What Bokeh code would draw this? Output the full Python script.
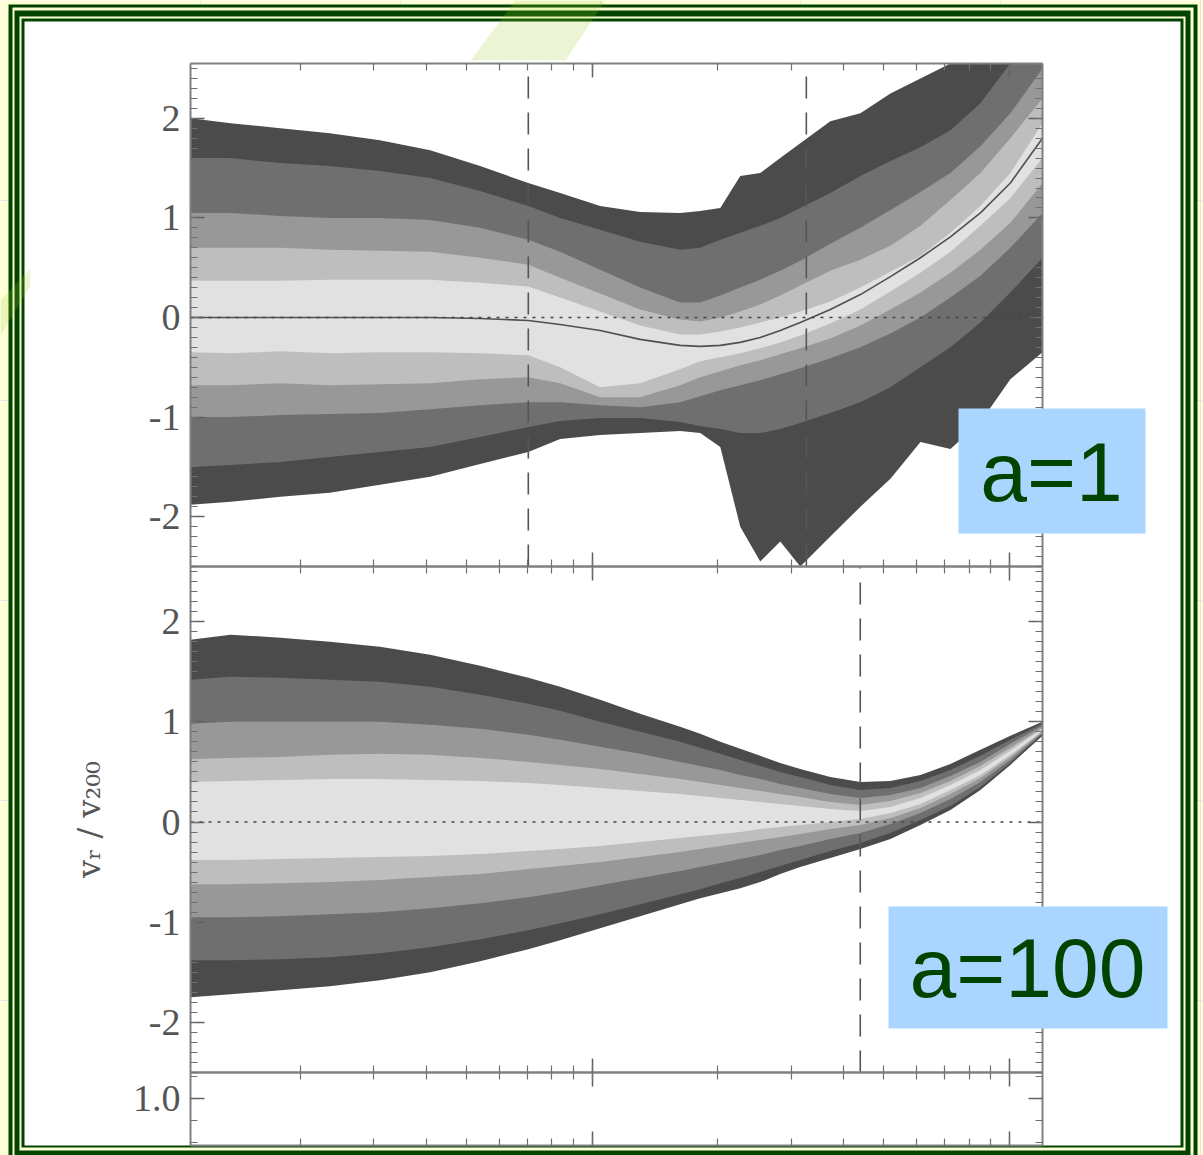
import numpy as np
from bokeh.plotting import figure
from bokeh.models import (Range1d, LogScale, LinearAxis, LogAxis,
                          LogTicker, FixedTicker, CustomJSTickFormatter)
from bokeh.core.properties import value
from bokeh.embed import file_html
from bokeh.resources import INLINE

# ---------------- data ----------------
# radius grid (log axis, decades at 1 and 10)
R = [0.109, 0.136, 0.179, 0.235, 0.310, 0.409, 0.539, 0.703, 0.838, 1.045, 1.303, 1.625, 1.815,
     2.028, 2.264, 2.528, 2.823, 3.153, 3.722, 4.393, 5.185, 6.12, 7.22, 8.52, 10.05, 12.0]

# panel a=1 : percentile band edges (upper U1..U5, lower L5..L1) and mean curve
A1_U1 = [2.00, 1.95, 1.90, 1.85, 1.78, 1.68, 1.52, 1.35, 1.25, 1.12, 1.06, 1.05, 1.07, 1.10, 1.42, 1.45, 1.60, 1.75, 1.97, 2.05, 2.25, 2.40, 2.60, 2.70, 2.70, 2.70]
A1_U2 = [1.60, 1.60, 1.55, 1.52, 1.47, 1.40, 1.27, 1.12, 1.00, 0.88, 0.76, 0.68, 0.70, 0.78, 0.85, 0.92, 1.00, 1.10, 1.25, 1.42, 1.57, 1.71, 1.88, 2.15, 2.55, 2.70]
A1_U3 = [1.05, 1.05, 1.02, 1.00, 1.00, 0.98, 0.90, 0.78, 0.66, 0.48, 0.30, 0.15, 0.15, 0.22, 0.30, 0.38, 0.47, 0.57, 0.74, 0.90, 1.08, 1.26, 1.45, 1.72, 2.05, 2.50]
A1_U4 = [0.70, 0.70, 0.70, 0.68, 0.67, 0.66, 0.60, 0.53, 0.40, 0.24, 0.08, -0.02, -0.04, 0.00, 0.06, 0.13, 0.22, 0.32, 0.47, 0.58, 0.72, 0.92, 1.18, 1.45, 1.80, 2.20]
A1_U5 = [0.37, 0.37, 0.37, 0.38, 0.38, 0.38, 0.35, 0.31, 0.20, 0.06, -0.08, -0.17, -0.17, -0.14, -0.10, -0.05, 0.00, 0.06, 0.16, 0.30, 0.46, 0.62, 0.85, 1.12, 1.45, 1.95]
A1_M = [0.00, 0.00, 0.00, 0.00, 0.00, 0.00, -0.01, -0.03, -0.07, -0.13, -0.22, -0.28, -0.29, -0.28, -0.25, -0.20, -0.13, -0.05, 0.08, 0.23, 0.41, 0.60, 0.81, 1.05, 1.35, 1.80]
A1_L5 = [-0.35, -0.36, -0.34, -0.36, -0.35, -0.35, -0.36, -0.38, -0.50, -0.70, -0.66, -0.52, -0.44, -0.40, -0.36, -0.31, -0.25, -0.18, -0.06, 0.08, 0.26, 0.45, 0.66, 0.92, 1.20, 1.60]
A1_L4 = [-0.68, -0.68, -0.66, -0.68, -0.67, -0.66, -0.62, -0.60, -0.66, -0.80, -0.80, -0.68, -0.60, -0.54, -0.48, -0.43, -0.37, -0.31, -0.21, -0.08, 0.08, 0.25, 0.45, 0.68, 0.95, 1.35]
A1_L3 = [-1.00, -1.00, -0.98, -0.97, -0.96, -0.92, -0.88, -0.85, -0.85, -0.88, -0.90, -0.85, -0.79, -0.73, -0.68, -0.63, -0.57, -0.51, -0.41, -0.30, -0.16, 0.00, 0.20, 0.42, 0.70, 1.05]
A1_L2 = [-1.50, -1.48, -1.45, -1.40, -1.35, -1.30, -1.20, -1.10, -1.04, -1.01, -1.01, -1.05, -1.09, -1.12, -1.16, -1.16, -1.12, -1.06, -0.96, -0.85, -0.70, -0.50, -0.30, -0.05, 0.25, 0.60]
A1_L1 = [-1.88, -1.85, -1.80, -1.76, -1.68, -1.60, -1.47, -1.35, -1.22, -1.18, -1.16, -1.14, -1.16, -1.30, -2.10, -2.45, -2.25, -2.55, -2.20, -1.90, -1.62, -1.25, -1.32, -1.05, -0.62, -0.35]

# panel a=100
B_U1 = [1.82, 1.87, 1.84, 1.80, 1.75, 1.67, 1.56, 1.44, 1.35, 1.22, 1.08, 0.95, 0.88, 0.80, 0.73, 0.66, 0.59, 0.53, 0.45, 0.40, 0.41, 0.47, 0.58, 0.72, 0.86, 1.00]
B_U2 = [1.42, 1.45, 1.44, 1.42, 1.40, 1.35, 1.27, 1.18, 1.11, 1.00, 0.90, 0.80, 0.74, 0.68, 0.62, 0.56, 0.50, 0.45, 0.37, 0.32, 0.34, 0.41, 0.52, 0.66, 0.82, 0.98]
B_U3 = [0.98, 1.00, 1.00, 1.00, 1.00, 0.97, 0.93, 0.87, 0.82, 0.75, 0.68, 0.60, 0.56, 0.52, 0.47, 0.43, 0.38, 0.34, 0.28, 0.24, 0.27, 0.34, 0.46, 0.60, 0.78, 0.96]
B_U4 = [0.63, 0.64, 0.65, 0.67, 0.68, 0.67, 0.64, 0.60, 0.57, 0.53, 0.48, 0.43, 0.40, 0.37, 0.34, 0.31, 0.28, 0.25, 0.20, 0.17, 0.21, 0.29, 0.41, 0.56, 0.74, 0.94]
B_U5 = [0.40, 0.41, 0.42, 0.43, 0.43, 0.42, 0.41, 0.39, 0.37, 0.34, 0.31, 0.28, 0.26, 0.24, 0.22, 0.20, 0.18, 0.16, 0.13, 0.11, 0.15, 0.24, 0.37, 0.52, 0.71, 0.93]
B_L5 = [-0.38, -0.38, -0.37, -0.36, -0.35, -0.34, -0.32, -0.29, -0.27, -0.24, -0.20, -0.16, -0.14, -0.12, -0.10, -0.07, -0.05, -0.03, 0.00, 0.03, 0.09, 0.18, 0.32, 0.47, 0.67, 0.91]
B_L4 = [-0.62, -0.62, -0.61, -0.60, -0.58, -0.55, -0.52, -0.47, -0.44, -0.40, -0.35, -0.30, -0.27, -0.24, -0.21, -0.18, -0.15, -0.12, -0.07, -0.03, 0.04, 0.14, 0.28, 0.44, 0.65, 0.90]
B_L3 = [-0.95, -0.95, -0.94, -0.92, -0.90, -0.86, -0.81, -0.75, -0.70, -0.63, -0.56, -0.49, -0.45, -0.41, -0.37, -0.33, -0.28, -0.24, -0.17, -0.11, -0.02, 0.09, 0.23, 0.40, 0.62, 0.89]
B_L2 = [-1.38, -1.38, -1.37, -1.35, -1.31, -1.25, -1.17, -1.08, -1.01, -0.92, -0.82, -0.72, -0.67, -0.61, -0.56, -0.50, -0.44, -0.38, -0.29, -0.21, -0.11, 0.02, 0.16, 0.35, 0.59, 0.88]
B_L1 = [-1.75, -1.72, -1.68, -1.64, -1.58, -1.50, -1.39, -1.27, -1.18, -1.06, -0.94, -0.82, -0.76, -0.71, -0.66, -0.60, -0.52, -0.45, -0.36, -0.27, -0.17, -0.03, 0.12, 0.32, 0.57, 0.86]

DASH_TOP = [0.703, 3.26]     # vertical dashed markers, a=1 panel
DASH_BOT = [4.39]            # a=100 panel
Y_TICKS = [-2, -1, 0, 1, 2]
THIRD_TICKS = [1.0]
LABEL_A1 = "a=1"
LABEL_A100 = "a=100"
Y_LABEL = "v\u1d63 / v\u2082\u2080\u2080"

# ---------------- layout / style ----------------
W, H = 1203, 1155
XMIN, XMAX = 0.109, 12.0
PX_L, PX_R = 190, 1042
YLIM1, PY1 = (-2.5, 2.55), (63, 566)
YLIM2, PY2 = (-2.5, 2.55), (566, 1072)
YLIM3, PY3 = (0.786, 1.118), (1072, 1145)
CREAM = "#FFFFD6"
DKGREEN = "#004400"
SHADES = ["#4b4b4b", "#6f6f6f", "#989898", "#bebebe", "#e1e1e1"]

p = figure(width=W, height=H, x_range=Range1d(0, W), y_range=Range1d(H, 0),
           output_backend="svg", toolbar_location=None, x_axis_location=None,
           y_axis_location=None, min_border=0, background_fill_color=CREAM,
           border_fill_color=CREAM, outline_line_color=None)
p.title.visible = False


def yrange(lim, py):
    lo, hi = lim
    ptop, pbot = py
    s = (pbot - ptop) / (hi - lo)
    return Range1d(lo - (H - pbot) / s, hi + ptop / s)


lx0, lx1 = np.log10(XMIN), np.log10(XMAX)
sx = (PX_R - PX_L) / (lx1 - lx0)
p.extra_x_ranges = {"r": Range1d(10 ** (lx0 - PX_L / sx), 10 ** (lx1 + (W - PX_R) / sx))}
p.extra_x_scales = {"r": LogScale()}
p.extra_y_ranges = {"top": yrange(YLIM1, PY1), "bot": yrange(YLIM2, PY2), "third": yrange(YLIM3, PY3)}

# ---- slide frame (decoration, pixel coordinates) ----
frame_layers = [  # left, right, top, bottom, colour
    (8, 1197, 4, 1200, DKGREEN),
    (12, 1193, 7, 1200, CREAM),
    (14, 1190, 10, 1200, DKGREEN),
    (19, 1185, 16, 1150, CREAM),
    (21, 1183, 18, 1147, DKGREEN),
    (24, 1180, 21, 1145, "white"),
]
for l, r, t, b, c in frame_layers:
    p.quad(left=l, right=r, top=t, bottom=b, fill_color=c, line_color=None)

# faint green brush strokes of the slide template
p.patch(x=[515, 605, 565, 470], y=[0, 0, 60, 60], fill_color="#9ACD32", fill_alpha=0.2, line_color=None)
p.patch(x=[0, 30, 30, 0], y=[300, 268, 285, 335], fill_color="#9ACD32", fill_alpha=0.2, line_color=None)

# ---- bands ----
R_arr = np.array(R)


def bands(ups, lows, rng, lim):
    for u, lw, c in zip(ups, lows, SHADES):
        p.varea(x=R_arr, y1=np.clip(u, *lim), y2=np.clip(lw, *lim), fill_color=c,
                x_range_name="r", y_range_name=rng)


bands([A1_U1, A1_U2, A1_U3, A1_U4, A1_U5], [A1_L1, A1_L2, A1_L3, A1_L4, A1_L5], "top", YLIM1)
bands([B_U1, B_U2, B_U3, B_U4, B_U5], [B_L1, B_L2, B_L3, B_L4, B_L5], "bot", YLIM2)

p.line(R_arr, A1_M, line_color="#505050", line_width=1.6, x_range_name="r", y_range_name="top")

for rng, lim in (("top", YLIM1), ("bot", YLIM2)):
    p.line([XMIN, XMAX], [0, 0], line_color="#444444", line_width=1.6, line_dash="3 6",
           x_range_name="r", y_range_name=rng)

p.segment(x0=DASH_TOP, x1=DASH_TOP, y0=[YLIM1[0]] * len(DASH_TOP), y1=[YLIM1[1]] * len(DASH_TOP),
          line_color="#555555", line_width=1.6, line_dash="22 14", x_range_name="r", y_range_name="top")
p.segment(x0=DASH_BOT, x1=DASH_BOT, y0=[YLIM2[0]] * len(DASH_BOT), y1=[YLIM2[1]] * len(DASH_BOT),
          line_color="#555555", line_width=1.6, line_dash="22 14", x_range_name="r", y_range_name="bot")

# ---- axes ----
blank = CustomJSTickFormatter(code="return ''")
int_fmt = CustomJSTickFormatter(code="return tick.toFixed(0)")
one_fmt = CustomJSTickFormatter(code="return tick.toFixed(1)")


def style(ax, labels):
    ax.axis_line_color = "#808080"
    ax.axis_line_width = 2
    ax.major_tick_line_color = "#606060"
    ax.minor_tick_line_color = "#707070"
    ax.major_tick_line_width = 1.5
    ax.minor_tick_line_width = 1.2
    ax.major_tick_in = 14
    ax.major_tick_out = 0
    ax.minor_tick_in = 7
    ax.minor_tick_out = 0
    ax.major_label_text_font = "Liberation Serif"
    ax.major_label_text_font_size = "38px"
    ax.major_label_text_color = "#555555"
    ax.major_label_standoff = 10
    if not labels:
        ax.formatter = blank


def panel_axes(rng, lim, yticker_fn, fmt, ylabel=None):
    lo, hi = lim
    left = LinearAxis(x_range_name="r", y_range_name=rng, fixed_location=XMIN, bounds=(lo, hi),
                      ticker=yticker_fn())
    style(left, True)
    left.formatter = fmt
    if ylabel:
        left.axis_label = ylabel
        left.axis_label_text_font = "DejaVu Serif"
        left.axis_label_text_font_style = "normal"
        left.axis_label_text_font_size = "32px"
        left.axis_label_text_color = "#555555"
        left.axis_label_standoff = 38
    p.add_layout(left, "left")
    right = LinearAxis(x_range_name="r", y_range_name=rng, fixed_location=XMAX, bounds=(lo, hi),
                       ticker=yticker_fn())
    style(right, False)
    p.add_layout(right, "right")
    top = LogAxis(x_range_name="r", y_range_name=rng, fixed_location=hi, bounds=(XMIN, XMAX),
                  ticker=LogTicker(num_minor_ticks=10))
    style(top, False)
    p.add_layout(top, "above")
    bot = LogAxis(x_range_name="r", y_range_name=rng, fixed_location=lo, bounds=(XMIN, XMAX),
                  ticker=LogTicker(num_minor_ticks=10))
    style(bot, False)
    p.add_layout(bot, "below")


minor_y = list(np.round(np.arange(-2.5, 2.55, 0.1), 2))
panel_axes("top", YLIM1, lambda: FixedTicker(ticks=Y_TICKS, minor_ticks=minor_y), int_fmt)
panel_axes("bot", YLIM2, lambda: FixedTicker(ticks=Y_TICKS, minor_ticks=minor_y), int_fmt, Y_LABEL)
panel_axes("third", YLIM3, lambda: FixedTicker(ticks=THIRD_TICKS, minor_ticks=[0.8, 0.9, 1.1]), one_fmt)

# ---- labels a=1 / a=100 (drawn above the axes) ----
p.quad(left=958, right=1145, top=408, bottom=533, fill_color="#A9D5FF", line_color=None, level="overlay")
p.text(x=[1051], y=[471], text=[LABEL_A1], text_font=value("Liberation Sans"), text_font_size="84px",
       text_color=DKGREEN, text_align="center", text_baseline="middle", level="overlay")
p.quad(left=888, right=1167, top=906, bottom=1028, fill_color="#A9D5FF", line_color=None, level="overlay")
p.text(x=[1027], y=[967], text=[LABEL_A100], text_font=value("Liberation Sans"), text_font_size="84px",
       text_color=DKGREEN, text_align="center", text_baseline="middle", level="overlay")

open("out.html", "w").write(file_html(p, INLINE))
